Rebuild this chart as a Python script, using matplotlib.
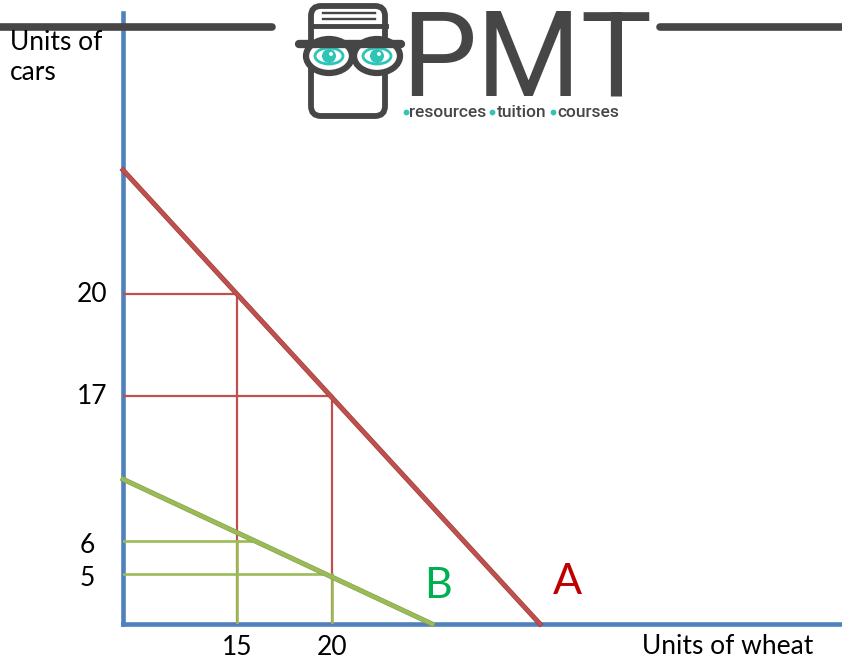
import matplotlib.pyplot as plt
import matplotlib.patheffects as pe
from matplotlib.patches import FancyBboxPatch, Ellipse, Circle

# schematic positions on the diagram (axes run 0-100 in both directions)
red_ppf_x = [0, 58.0]        # frontier A
red_ppf_y = [74.3, 0]
green_ppf_x = [0, 43.0]      # frontier B
green_ppf_y = [23.7, 0]

wheat_pos = [15.9, 29.1]
wheat_labels = ["15", "20"]
red_cars_pos = [54.0, 37.3]
red_cars_labels = ["20", "17"]
green_cars_pos = [13.6, 8.2]
green_cars_labels = ["6", "5"]

blue = "#4F81BD"
red = "#C0504D"
green = "#9BBB59"
dark = "#464646"
teal = "#2EC4B6"
font = "Lato"

fig = plt.figure(figsize=(8.42, 6.59), dpi=100)
ax = fig.add_axes([123 / 842, 35 / 659, 719 / 842, 611 / 659])
ax.set_xlim(0, 100)
ax.set_ylim(0, 100)
for s in ["top", "right"]:
    ax.spines[s].set_visible(False)
for s in ["left", "bottom"]:
    ax.spines[s].set_color(blue)
    ax.spines[s].set_linewidth(3.3)
    ax.spines[s].set_zorder(1)
ax.set_xticks([])
ax.set_yticks([])

# guide lines for A
for wx, cy in zip(wheat_pos, red_cars_pos):
    ax.plot([0, wx], [cy, cy], color=red, lw=1.6, zorder=2)
    ax.plot([wx, wx], [0, cy], color=red, lw=1.6, zorder=2)

# guide lines for B
for wx, cy in zip(wheat_pos, green_cars_pos):
    x_end = green_ppf_x[1] * (1 - cy / green_ppf_y[0])
    ax.plot([0, x_end], [cy, cy], color=green, lw=1.9, zorder=3)
    ax.plot([wx, wx], [0, cy], color=green, lw=1.9, zorder=3)

ax.plot(red_ppf_x, red_ppf_y, color=red, lw=2.6, zorder=4, clip_on=False,
        path_effects=[pe.Stroke(linewidth=3.6, foreground="#A0403D"), pe.Normal()])
ax.plot(green_ppf_x, green_ppf_y, color=green, lw=2.6, zorder=4, clip_on=False,
        path_effects=[pe.Stroke(linewidth=3.6, foreground="#86A548"), pe.Normal()])

# labels
for wx, lab in zip(wheat_pos, wheat_labels):
    ax.annotate(lab, (wx, 0), xytext=(0, -17), textcoords="offset points",
                ha="center", va="center", fontsize=19, family=font)
for cy, lab in zip(red_cars_pos, red_cars_labels):
    ax.annotate(lab, (0, cy), xytext=(-11, 0), textcoords="offset points",
                ha="right", va="center", fontsize=19, family=font)
for cy, lab in zip(green_cars_pos, green_cars_labels):
    ax.annotate(lab, (0, cy), xytext=(-20, -3), textcoords="offset points",
                ha="right", va="center", fontsize=19, family=font)

ax.annotate("A", (red_ppf_x[1], 0), xytext=(20, 30), textcoords="offset points",
            ha="center", va="center", fontsize=31, color="#C00000", family=font)
ax.annotate("B", (green_ppf_x[1], 0), xytext=(4, 27), textcoords="offset points",
            ha="center", va="center", fontsize=31, color="#00B050", family=font)

fig.text(642 / 842, 1 - 647 / 659, "Units of wheat", ha="left", va="center",
         fontsize=19, family=font)
fig.text(10 / 842, 1 - 57 / 659, "Units of\ncars", ha="left", va="center",
         fontsize=19, family=font, linespacing=1.25)

# PMT logo overlay
ov = fig.add_axes([0, 0, 1, 1])
ov.set_xlim(0, 842)
ov.set_ylim(659, 0)
ov.axis("off")
ov.patch.set_alpha(0)

ov.plot([0, 272], [27, 27], color=dark, lw=5.5, solid_capstyle="round")
ov.plot([660, 842], [27, 27], color=dark, lw=5.5, solid_capstyle="round")

# book
ov.add_patch(FancyBboxPatch((311, 6), 74, 110, boxstyle="round,pad=0,rounding_size=10",
                            fc="white", ec=dark, lw=4.2))
ov.plot([311, 386], [26, 26], color=dark, lw=3.5)
ov.plot([323, 375], [13, 13], color=dark, lw=1.7)
ov.plot([323, 375], [19, 19], color=dark, lw=1.7)
# glasses
ov.plot([299, 401], [44, 44], color=dark, lw=6, solid_capstyle="round")
for cx in [329, 377]:
    ov.add_patch(Ellipse((cx, 56), 46, 34, fc="white", ec=dark, lw=4.5))
    ov.add_patch(Ellipse((cx, 56), 28, 16, fc="white", ec=teal, lw=2))
    ov.add_patch(Circle((cx, 56), 7, fc=teal, ec="none"))
    ov.add_patch(Circle((cx + 2, 54), 2, fc="white", ec="none"))

ov.text(401, 96, "PMT", fontsize=86, color=dark, family="Roboto", weight="normal",
        ha="left", va="baseline")
for x, word in zip([448, 522, 588], ["resources", "tuition", "courses"]):
    ov.text(x, 117, word, fontsize=12.5, color=dark, family="Roboto", weight="medium",
            ha="center", va="baseline")
ov.scatter([406, 492, 553], [112, 112, 112], s=10, color=teal)

fig.savefig("out.png", dpi=100)
